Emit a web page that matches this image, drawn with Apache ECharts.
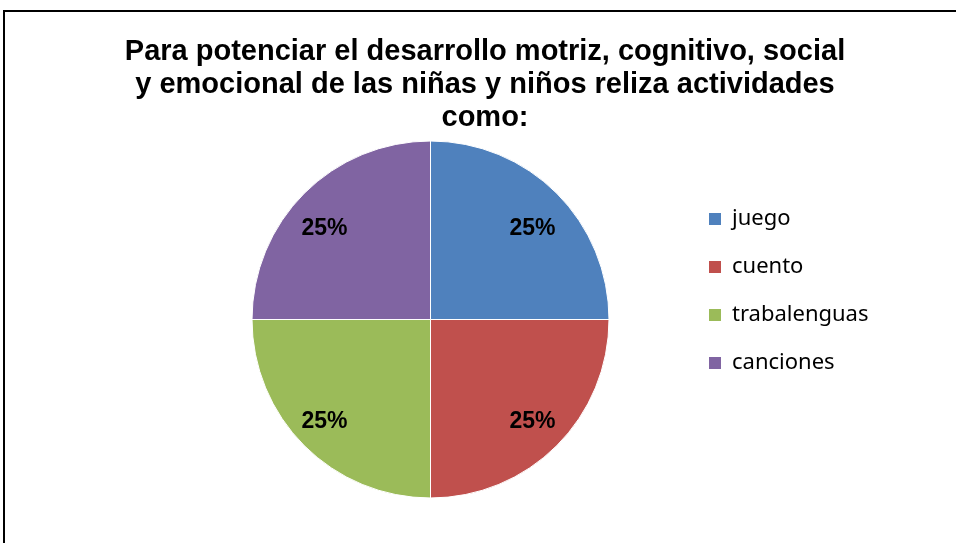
<!DOCTYPE html>
<html>
<head>
<meta charset="utf-8">
<script src="https://cdn.jsdelivr.net/npm/echarts@6/dist/echarts.min.js"></script>
<style>
  html, body { margin: 0; padding: 0; background: #fff; }
  #chart { width: 956px; height: 543px; }
</style>
</head>
<body>
<div id="chart"></div>
<script>
// datos del gráfico
const categories = ['juego', 'cuento', 'trabalenguas', 'canciones'];
const values = [25, 25, 25, 25];
const colors = ['#4F81BD', '#C0504D', '#9BBB59', '#8064A2'];
const titleText = 'Para potenciar el desarrollo motriz, cognitivo, social\ny emocional de las niñas y niños reliza actividades\ncomo:';

const chart = echarts.init(document.getElementById('chart'));

const pieData = categories.map((name, i) => ({
  name: name,
  value: values[i],
  itemStyle: { color: colors[i] }
}));

const option = {
  animation: false,
  title: {
    text: titleText,
    left: 480,
    top: 30,
    textAlign: 'center',
    textStyle: {
      fontFamily: '"Liberation Sans", Arial, sans-serif',
      fontWeight: 'bold',
      fontSize: 29,
      lineHeight: 33,
      color: '#000'
    }
  },
  legend: {
    orient: 'vertical',
    left: 702,
    top: 203,
    itemWidth: 14,
    itemHeight: 14,
    itemGap: 26,
    icon: 'rect',
    data: categories,
    textStyle: {
      fontFamily: '"Noto Sans", "Open Sans", sans-serif',
      fontSize: 22,
      lineHeight: 22,
      color: '#000',
      padding: [0, 0, 0, 5]
    }
  },
  graphic: [{
    type: 'rect',
    shape: { x: 4, y: 11, width: 1000, height: 600 },
    style: { fill: 'none', stroke: '#000', lineWidth: 2 },
    silent: true
  }],
  series: [
    {
      type: 'pie',
      center: [430.5, 319.5],
      radius: [0, 178.5],
      startAngle: 90,
      clockwise: true,
      silent: true,
      label: { show: false },
      labelLine: { show: false },
      itemStyle: { borderColor: '#fff', borderWidth: 1 },
      data: pieData
    },
    {
      // anillo transparente solo para colocar las etiquetas
      type: 'pie',
      center: [430.5, 319.5],
      radius: [104, 178.5],
      startAngle: 90,
      clockwise: true,
      silent: true,
      itemStyle: { color: 'transparent' },
      label: {
        show: true,
        position: 'inside',
        formatter: p => Math.round(p.percent) + '%',
        fontFamily: '"Liberation Sans", Arial, sans-serif',
        fontWeight: 'bold',
        fontSize: 23,
        color: '#000'
      },
      // pequeño ajuste: las de arriba van algo más abajo, las de la izquierda algo más a la izquierda
      labelLayout: p => ({
        dx: (p.dataIndex === 2 || p.dataIndex === 3) ? -4 : 0,
        dy: (p.dataIndex === 0 || p.dataIndex === 3) ? 11 : 0
      }),
      labelLine: { show: false },
      data: categories.map((name, i) => ({ name: name, value: values[i] }))
    }
  ]
};

chart.setOption(option);
</script>
</body>
</html>
